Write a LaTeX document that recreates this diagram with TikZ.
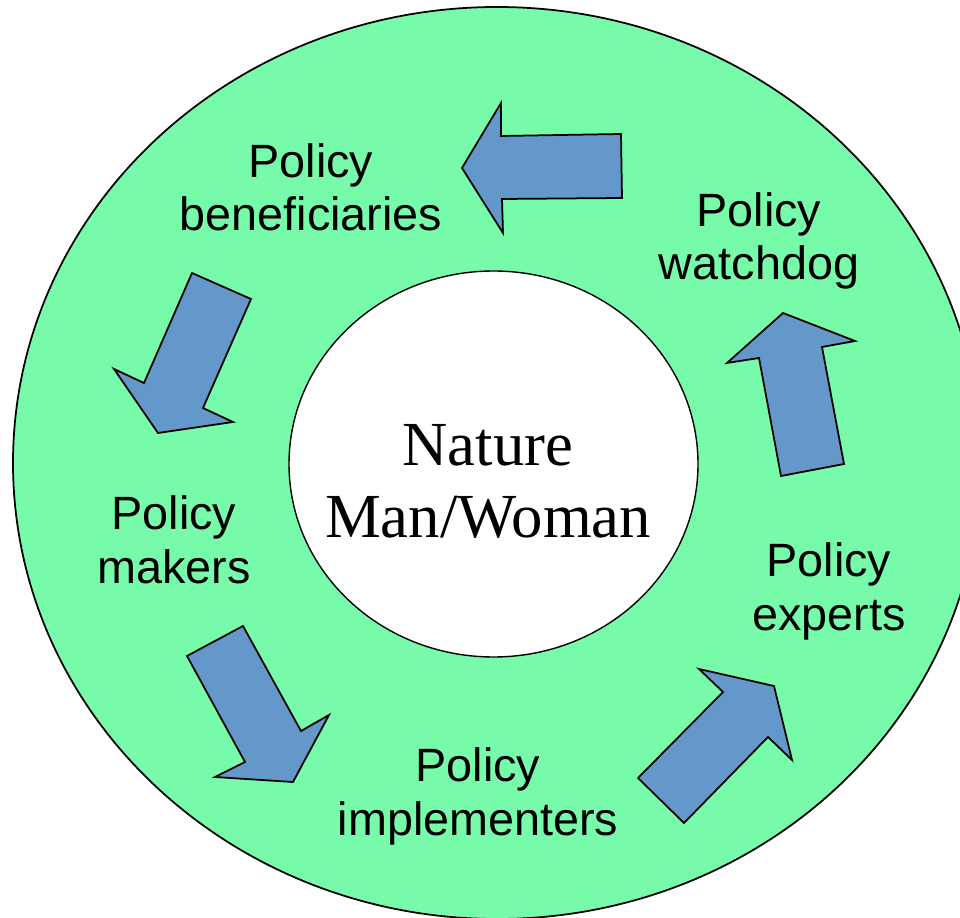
\documentclass[tikz,border=0pt]{standalone}
\usepackage{fontspec}
\setmainfont{Liberation Serif}
\setsansfont{Liberation Sans}
\definecolor{ringgreen}{HTML}{77FBAA}
\definecolor{arrowblue}{HTML}{6497CA}
\tikzset{
	blockarrow/.style={draw=black, line width=1pt, fill=arrowblue, line join=miter},
	role/.style={font=\sffamily\fontsize{26.6}{30.6}\selectfont, align=center, anchor=base},
	hub/.style={font=\rmfamily\fontsize{35.7}{41.4}\selectfont, align=center, anchor=base}
}

\begin{document}
\begin{tikzpicture}[x=0.02cm, y=-0.02cm]
			%%%%% START %%%%%
			
			\useasboundingbox (0, 0) rectangle (960, 918);
			\clip (0, 0) rectangle (960, 918);
			
			\draw[line width=1pt, fill=ringgreen] (497, 463) ellipse [x radius=484, y radius=456];
			\draw[line width=0.8pt, fill=white] (493.5, 464) ellipse [x radius=204.5, y radius=193];
			
			% base = last line
			\node[hub] (core) at (488, 538) {Nature\\Man/Woman};
			
			\node[role] (benef) at (311, 231) {Policy\\beneficiaries};
			\node[role] (watch) at (759, 280) {Policy\\watchdog};
			\node[role] (makers) at (174, 583) {Policy\\makers};
			\node[role] (experts) at (829, 630) {Policy\\experts};
			\node[role] (impl) at (478, 835) {Policy\\implementers};
			
			% watchdog -> beneficiaries
			\draw[blockarrow] (462, 168) -- (501, 103) -- (501, 136) -- (621, 134) -- (622, 198) -- (502, 199) -- (503, 233) -- cycle;
			% beneficiaries -> makers
			\draw[blockarrow] (192, 273) -- (251, 299) -- (203, 408) -- (233, 422) -- (158, 433) -- (114, 369) -- (144, 383) -- cycle;
			% makers -> implementers
			\draw[blockarrow] (187, 656) -- (243, 626) -- (301, 731) -- (329, 715) -- (293, 782) -- (215, 777) -- (245, 762) -- cycle;
			% implementers -> experts
			\draw[blockarrow] (638, 778) -- (723, 692) -- (699, 669) -- (774, 686) -- (792, 760) -- (768, 737) -- (684, 823) -- cycle;
			% experts -> watchdog
			\draw[blockarrow] (783, 313) -- (855, 341) -- (822, 347) -- (844, 464) -- (781, 476) -- (759, 358) -- (727, 363) -- cycle;
			
			%%%%% END %%%%%
\end{tikzpicture}
\end{document}
